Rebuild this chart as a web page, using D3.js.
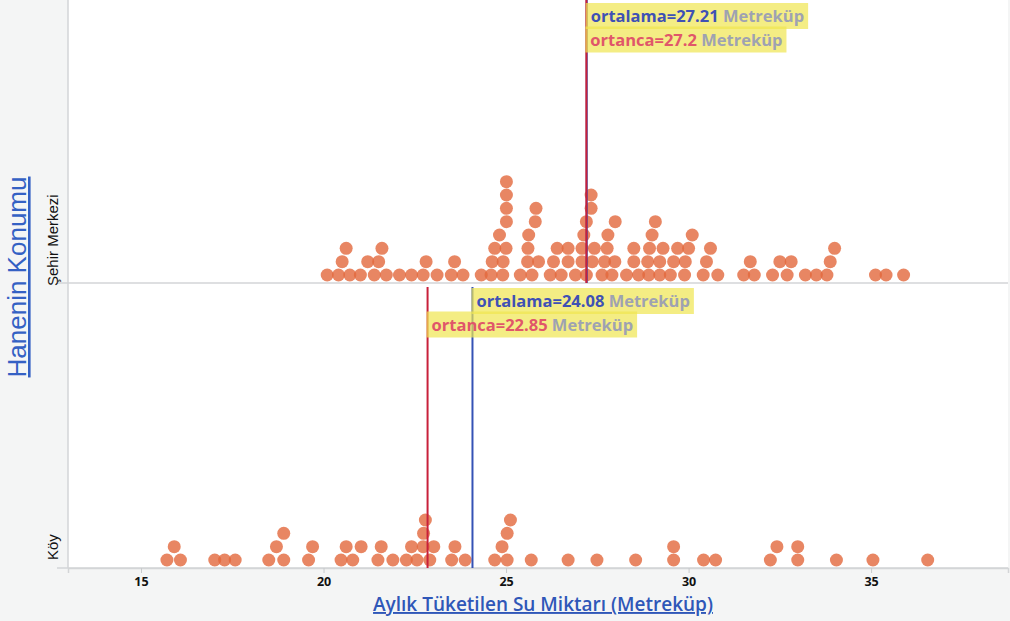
<!DOCTYPE html>
<html>
<head>
<meta charset="utf-8">
<script src="https://cdn.jsdelivr.net/npm/d3@7"></script>
<style>
  html, body { margin: 0; padding: 0; background: #f4f5f5; }
  svg { display: block; }
</style>
</head>
<body>
<svg id="chart" width="1010" height="621"></svg>
<script>
// Household location groups
const categories = ["Şehir Merkezi", "Köy"];

// Monthly water use per household (cubic metres), city centre
const sehirValues = [
  20.10, 20.41, 20.51, 20.62, 20.72, 21.01, 21.21, 21.39, 21.51, 21.60,
  21.72, 22.08, 22.41, 22.73, 22.81, 23.11, 23.50, 23.59, 23.82, 24.32,
  24.59, 24.62, 24.69, 24.82, 24.91, 24.92, 25.00, 25.01, 25.01, 25.01,
  25.01, 25.39, 25.59, 25.60, 25.62, 25.71, 25.80, 25.82, 25.89, 26.21,
  26.30, 26.40, 26.51, 26.70, 26.70, 26.90, 27.08, 27.08, 27.13, 27.20,
  27.20, 27.33, 27.33, 27.36, 27.42, 27.63, 27.70, 27.77, 27.79, 27.90,
  27.98, 27.99, 28.30, 28.50, 28.50, 28.63, 28.88, 28.91, 28.93, 29.00,
  29.09, 29.21, 29.21, 29.30, 29.50, 29.59, 29.70, 29.89, 29.91, 30.00,
  30.10, 30.40, 30.49, 30.60, 30.80, 31.51, 31.69, 31.80, 32.30, 32.50,
  32.70, 32.81, 33.20, 33.50, 33.79, 33.88, 34.00, 35.12, 35.41, 35.89
];

// Monthly water use per household (cubic metres), village
const koyValues = [
  15.71, 15.91, 16.08, 17.02, 17.29, 17.58, 18.50, 18.71, 18.91, 18.91,
  19.59, 19.70, 20.48, 20.62, 20.80, 21.03, 21.49, 21.58, 21.90, 22.27,
  22.41, 22.56, 22.73, 22.74, 22.79, 22.91, 23.02, 23.51, 23.60, 23.88,
  24.69, 24.89, 25.03, 25.03, 25.12, 25.69, 26.70, 27.49, 28.55, 29.59,
  29.59, 30.41, 30.74, 32.24, 32.42, 32.99, 32.99, 34.05, 35.05, 36.55
];

// Summary statistics shown in the labels
const meanValues = [27.21, 24.08];
const medianValues = [27.2, 22.85];

const xTicks = [15, 20, 25, 30, 35];
const xTitle = "Aylık Tüketilen Su Miktarı (Metreküp)";
const yTitle = "Hanenin Konumu";
const unitLabel = "Metreküp";
const meanLabel = "ortalama";
const medianLabel = "ortanca";

const groups = [sehirValues, koyValues];

// ---- layout ----
const plot = { left: 68, right: 1008, top: 0, bottom: 568 };
const R = 6.5;          // dot radius
const ROW = 13.33;      // vertical step between stacked dots
const MIN_GAP = 9.5;    // horizontal spacing that forces a dot up a row

const svg = d3.select("#chart");

const x = d3.scaleLinear().domain([13, 38.75]).range([plot.left, plot.right]);
const yBand = d3.scaleBand().domain(categories).range([plot.top, plot.bottom]).paddingInner(0);
const yBase = d3.scalePoint().domain(categories).range([283, plot.bottom]);

// plot background
svg.append("rect")
  .attr("x", plot.left).attr("y", plot.top)
  .attr("width", plot.right - plot.left).attr("height", plot.bottom - plot.top)
  .attr("fill", "#ffffff");

// group divider / category baselines
svg.append("g")
  .selectAll("line")
  .data(categories)
  .join("line")
  .attr("x1", plot.left - 11).attr("x2", plot.right)
  .attr("y1", d => yBase(d)).attr("y2", d => yBase(d))
  .attr("stroke", "#d3d5d7").attr("stroke-width", 1.5);

// left axis line
svg.append("line")
  .attr("x1", plot.left).attr("x2", plot.left)
  .attr("y1", plot.top).attr("y2", plot.bottom)
  .attr("stroke", "#d3d5d7").attr("stroke-width", 1.5);

// x axis
const xAxis = svg.append("g")
  .attr("transform", `translate(0,${plot.bottom})`)
  .call(d3.axisBottom(x).tickValues(xTicks).tickSize(5).tickPadding(4).tickFormat(d3.format("d")));
xAxis.select(".domain").attr("stroke", "#d3d5d7").attr("stroke-width", 1.5);
xAxis.selectAll(".tick line").attr("stroke", "#c8cacc");
xAxis.selectAll(".tick text")
  .attr("fill", "#111")
  .style("font-family", "'Open Sans', sans-serif")
  .style("font-weight", 700)
  .style("font-size", "12.5px");

// category labels (rotated)
svg.append("g")
  .selectAll("text")
  .data(categories)
  .join("text")
  .attr("transform", d => `translate(${plot.left - 10},${yBase(d) + (d === "Köy" ? -8 : 3)}) rotate(-90)`)
  .attr("text-anchor", "start")
  .attr("fill", "#111")
  .style("font-family", "'Liberation Sans', Arial, sans-serif")
  .style("font-size", "15px")
  .text(d => d);

// axis titles
svg.append("text")
  .attr("x", (plot.left + plot.right) / 2 + 5).attr("y", 611)
  .attr("text-anchor", "middle")
  .attr("fill", "#2f57b8")
  .attr("text-decoration", "underline")
  .style("font-family", "'Open Sans', sans-serif")
  .style("font-weight", 600)
  .style("font-size", "19px")
  .text(xTitle);

svg.append("text")
  .attr("transform", `translate(26,${277}) rotate(-90)`)
  .attr("text-anchor", "middle")
  .attr("fill", "#3461c4")
  .attr("text-decoration", "underline")
  .style("font-family", "'Liberation Sans', Arial, sans-serif")
  .style("font-size", "26px")
  .text(yTitle);

// stack dots: sort by value, lift a dot one row while it crowds the previous dot in that row
function stackDots(values) {
  const pts = values.map(v => ({ v, px: x(v) })).sort((a, b) => a.v - b.v);
  const lastInRow = [];
  pts.forEach(p => {
    let r = 0;
    while (lastInRow[r] !== undefined && p.px - lastInRow[r] < MIN_GAP) r++;
    lastInRow[r] = p.px;
    p.row = r;
  });
  return pts;
}

const dotLayer = svg.append("g");
categories.forEach((cat, i) => {
  const pts = stackDots(groups[i]);
  dotLayer.append("g")
    .selectAll("circle")
    .data(pts)
    .join("circle")
    .attr("cx", d => d.px)
    .attr("cy", d => yBase(cat) - 8 - d.row * ROW)
    .attr("r", R)
    .attr("fill", "#e2683c")
    .attr("fill-opacity", 0.8);
});

// mean / median markers with labels
const fmt = d3.format(".2~f");
const annLayer = svg.append("g");
categories.forEach((cat, i) => {
  const top = yBand(cat) + (i === 0 ? 0 : 3);
  const bottom = yBase(cat);
  const g = annLayer.append("g");

  g.append("line")
    .attr("x1", x(meanValues[i])).attr("x2", x(meanValues[i]))
    .attr("y1", top).attr("y2", bottom)
    .attr("stroke", "#3552b5").attr("stroke-width", 2);
  g.append("line")
    .attr("x1", x(medianValues[i])).attr("x2", x(medianValues[i]))
    .attr("y1", top).attr("y2", bottom)
    .attr("stroke", "#c8203a").attr("stroke-width", 2);

  const labels = [
    { name: meanLabel, value: meanValues[i], color: "#3f51b5" },
    { name: medianLabel, value: medianValues[i], color: "#e0566a" }
  ];
  labels.forEach((lab, k) => {
    const boxY = yBand(cat) + (i === 0 ? 3 : 4) + k * 23.5;
    const lx = x(lab.value);
    const lg = g.append("g");
    const rect = lg.append("rect")
      .attr("x", lx - 1).attr("y", boxY).attr("height", 26)
      .attr("fill", "#efe650").attr("fill-opacity", 0.7);
    const t = lg.append("text")
      .attr("x", lx + 4).attr("y", boxY + 19)
      .style("font-family", "'Open Sans', sans-serif")
      .style("font-weight", 700)
      .style("font-size", "16.5px");
    t.append("tspan").attr("fill", lab.color).text(`${lab.name}=${fmt(lab.value)}`);
    t.append("tspan").attr("fill", "#9ea2b2").text(" " + unitLabel);
    const w = t.node().getComputedTextLength();
    rect.attr("width", w + 9);
  });
});
</script>
</body>
</html>
